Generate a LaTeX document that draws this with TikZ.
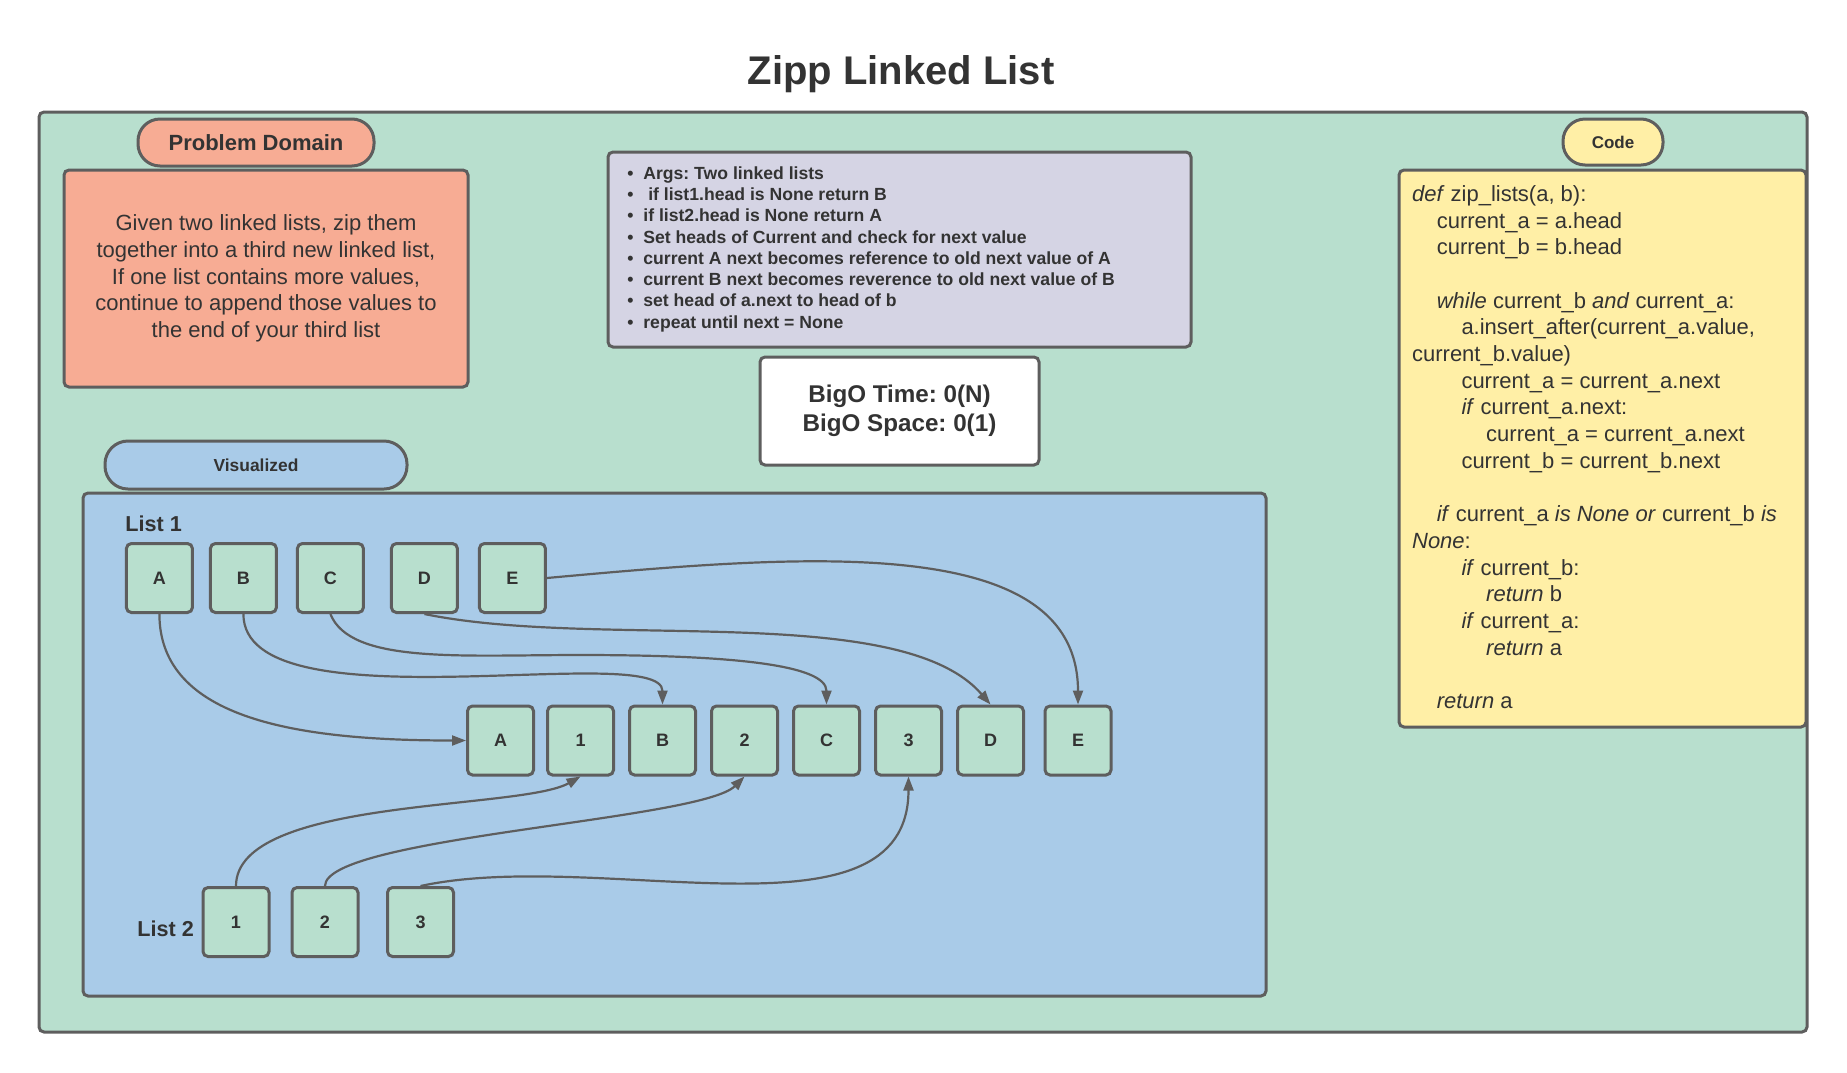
\documentclass[tikz,border=0pt]{standalone}
\usepackage{fontspec}
\setmainfont{Liberation Sans}
\usetikzlibrary{arrows.meta}
\usetikzlibrary{positioning}
\frenchspacing

\definecolor{zgreen}{HTML}{B8DFCE}
\definecolor{zsalmon}{HTML}{F7AC94}
\definecolor{zlav}{HTML}{D5D4E4}
\definecolor{zyellow}{HTML}{FFEFA6}
\definecolor{zblue}{HTML}{A9CBE8}
\definecolor{zline}{HTML}{5E5E5E}
\definecolor{ztext}{HTML}{333333}

\newcommand\codeindent{\hspace*{12.35pt}}
\newcommand\argline[1]{\makebox[8pt][l]{\textbullet}#1}

\begin{document}
\begin{tikzpicture}[x=0.5pt,y=-0.5pt,
  every node/.style={text=ztext},
  panel/.style={draw=zline,line width=1.5pt,rounded corners=2.5pt,inner sep=0pt},
  tag/.style={draw=zline,line width=1.5pt,inner sep=0pt,font=\bfseries\fontsize{8.7pt}{10pt}\selectfont},
  cell/.style={draw=zline,fill=zgreen,line width=1.5pt,rounded corners=2.5pt,minimum width=33pt,minimum height=34.5pt,inner sep=0pt,font=\bfseries\fontsize{9pt}{10pt}\selectfont},
  listlab/.style={anchor=west,inner sep=0pt,font=\bfseries\fontsize{10.8pt}{12pt}\selectfont},
  link/.style={draw=zline,line width=1.1pt,->,>={Triangle[length=7pt,width=5pt]}}]

  \fill [white] (0,0) rectangle (1847,1072);

  \node [font=\bfseries\fontsize{20pt}{24pt}\selectfont] (title) at (901,74) {Zipp Linked List};

  \node [panel,fill=zgreen,minimum width=884pt,minimum height=460pt] (frame) at (923,572) {};

  \node [tag,fill=zsalmon,minimum width=118pt,minimum height=23.5pt,rounded corners=11pt,font=\bfseries\fontsize{11pt}{13pt}\selectfont] (pd_lab) at (256,142.5) {Problem Domain};
  \node [panel,fill=zsalmon,minimum width=202pt,minimum height=108.5pt,align=center,font=\fontsize{11pt}{13.35pt}\selectfont] (pd) at (266,278.5) {Given two linked lists, zip them\\together into a third new linked list,\\If one list contains more values,\\continue to append those values to\\the end of your third list};

  \node [panel,fill=zlav,minimum width=291.5pt,minimum height=97.5pt] (args) at (899.5,249.5) {};
  \node [anchor=north west,inner sep=0pt,align=left,font=\bfseries\fontsize{8.8pt}{10.65pt}\selectfont] (args_txt) at (627,166) {%
    \argline{Args: Two linked lists}\\
    \argline{\ if list1.head is None return B}\\
    \argline{if list2.head is None return A}\\
    \argline{Set heads of Current and check for next value}\\
    \argline{current A next becomes reference to old next value of A}\\
    \argline{current B next becomes reverence to old next value of B}\\
    \argline{set head of a.next to head of b}\\
    \argline{repeat until next = None}};

  \node [panel,fill=white,minimum width=139.5pt,minimum height=54pt,align=center,font=\bfseries\fontsize{12.1pt}{14.5pt}\selectfont] (bigo) at (899.5,411) {BigO Time: 0(N)\\BigO Space: 0(1)};

  \node [tag,fill=zyellow,minimum width=50pt,minimum height=23pt,rounded corners=11pt,font=\bfseries\fontsize{8.5pt}{10pt}\selectfont] (code_lab) at (1613,142) {Code};
  \node [panel,fill=zyellow,minimum width=203.5pt,minimum height=278.5pt] (code) at (1602.5,448.5) {};
  \node [anchor=north west,inner sep=0pt,align=left,font=\fontsize{11pt}{13.35pt}\selectfont] (code_txt) at (1411.7,185) {%
    \textit{def} zip\_lists(a, b):\\
    \codeindent current\_a = a.head\\
    \codeindent current\_b = b.head\\
    \mbox{}\\
    \codeindent\textit{while} current\_b \textit{and} current\_a:\\
    \codeindent\codeindent a.insert\_after(current\_a.value,\\
    current\_b.value)\\
    \codeindent\codeindent current\_a = current\_a.next\\
    \codeindent\codeindent\textit{if} current\_a.next:\\
    \codeindent\codeindent\codeindent current\_a = current\_a.next\\
    \codeindent\codeindent current\_b = current\_b.next\\
    \mbox{}\\
    \codeindent\textit{if} current\_a \textit{is None or} current\_b \textit{is}\\
    \textit{None}:\\
    \codeindent\codeindent\textit{if} current\_b:\\
    \codeindent\codeindent\codeindent\textit{return} b\\
    \codeindent\codeindent\textit{if} current\_a:\\
    \codeindent\codeindent\codeindent\textit{return} a\\
    \mbox{}\\
    \codeindent\textit{return} a};

  \node [tag,fill=zblue,minimum width=151pt,minimum height=24pt,rounded corners=11.5pt] (vis_lab) at (256,465) {Visualized};
  \node [panel,fill=zblue,minimum width=591.5pt,minimum height=251.5pt] (vis) at (674.5,744.5) {};

  \node [listlab] (L1_lab) at (125,524) {List 1};
  \node [cell] (L1_a) at (159.4,578) {A};
  \node [cell,right=7.5pt of L1_a] (L1_b) {B};
  \node [cell,right=9pt of L1_b] (L1_c) {C};
  \node [cell,right=12.5pt of L1_c] (L1_d) {D};
  \node [cell,right=9.5pt of L1_d] (L1_e) {E};

  \node [cell] (Z_a) at (500.5,740.5) {A};
  \node [cell,right=5.5pt of Z_a] (Z_1) {1};
  \node [cell,right=6.5pt of Z_1] (Z_b) {B};
  \node [cell,right=6.5pt of Z_b] (Z_2) {2};
  \node [cell,right=6.5pt of Z_2] (Z_c) {C};
  \node [cell,right=6.5pt of Z_c] (Z_3) {3};
  \node [cell,right=6.5pt of Z_3] (Z_d) {D};
  \node [cell,right=9.25pt of Z_d] (Z_e) {E};

  \node [listlab] (L2_lab) at (137,929) {List 2};
  \node [cell] (L2_1) at (236,922) {1};
  \node [cell,right=10pt of L2_1] (L2_2) {2};
  \node [cell,right=13.25pt of L2_2] (L2_3) {3};

  \path [link]
    (L1_a.south) .. controls +(0,106) and +(-166,0) .. (Z_a.west);
  \path [link]
    (L1_b.south) .. controls +(0,116) and +(0,-65) .. (Z_b.north);
  \path [link]
    (L1_c.south) .. controls +(20,50) and +(-120,0) .. (580,655)
    .. controls +(150,0) and +(0,-40) .. (Z_c.north);
  \path [link]
    (L1_d.south) .. controls +(175,36) and +(-90,-104) .. (Z_d.north);
  \path [link]
    (L1_e.east) .. controls +(253,-23) and +(0,-174) .. (Z_e.north);

  \path [link]
    (L2_1.north) .. controls +(0,-89) and +(-60,34) .. (Z_1.south);
  \path [link]
    (L2_2.north) .. controls +(0,-49) and +(-44,44) .. (Z_2.south);
  \path [link]
    (L2_3.north) .. controls +(180,-39) and +(0,174) .. (Z_3.south);

\end{tikzpicture}
\end{document}
